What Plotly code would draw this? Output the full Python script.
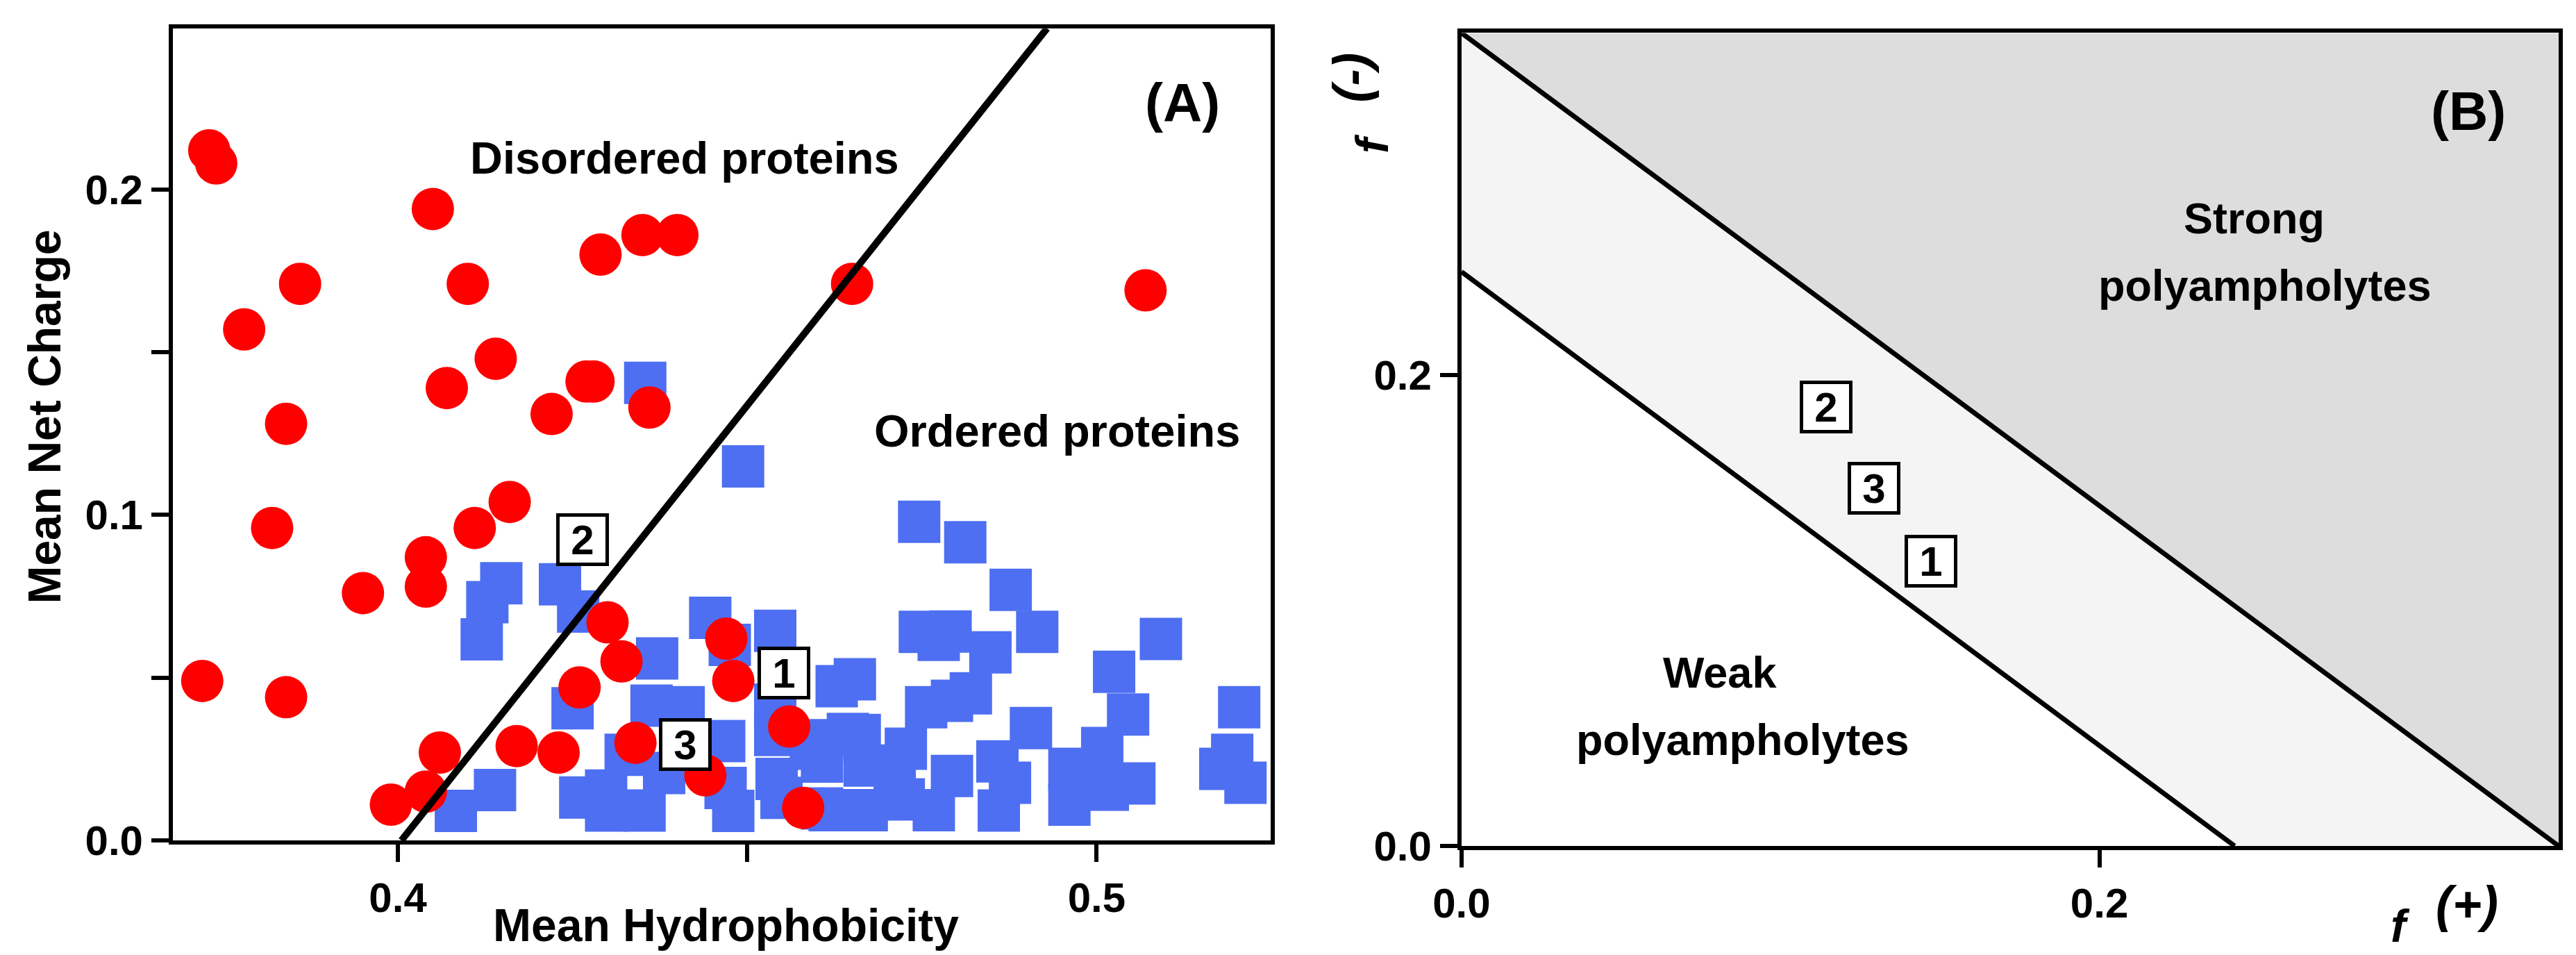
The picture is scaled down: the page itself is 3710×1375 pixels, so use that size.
import plotly.graph_objects as go

# ---- panel A: charge-hydropathy plot ----
# ordered proteins (blue squares)
ordered_h = [0.4354, 0.4494, 0.4746, 0.4812, 0.4877, 0.4915, 0.5092, 0.5025, 0.5204,
             0.4148, 0.4128, 0.4120, 0.4232, 0.4258, 0.4447, 0.4540, 0.4475, 0.4371,
             0.4250, 0.4363, 0.4409, 0.4467, 0.4540, 0.4540, 0.4326, 0.4139, 0.4083,
             0.4261, 0.4298, 0.4298, 0.4353, 0.4381, 0.4469, 0.4480, 0.4542, 0.4591,
             0.4628, 0.4654, 0.4747, 0.4774, 0.4791, 0.4848, 0.4820, 0.4793, 0.4756,
             0.4661, 0.4727, 0.4618, 0.4671, 0.4724, 0.4767, 0.4793, 0.4858, 0.4876,
             0.4860, 0.4906, 0.4961, 0.4961, 0.5008, 0.5016, 0.5045, 0.5054, 0.5177,
             0.5194, 0.5213, 0.4644, 0.4607, 0.4668, 0.4711, 0.4549, 0.4607, 0.4607]
ordered_r = [0.1406, 0.1149, 0.0979, 0.0916, 0.0770, 0.0641, 0.0619, 0.0518, 0.0409,
             0.0790, 0.0732, 0.0618, 0.0787, 0.0703, 0.0684, 0.0644, 0.0601, 0.0559,
             0.0406, 0.0414, 0.0409, 0.0305, 0.0324, 0.0417, 0.0263, 0.0155, 0.0091,
             0.0132, 0.0153, 0.0092, 0.0092, 0.0207, 0.0161, 0.0091, 0.0189, 0.0282,
             0.0474, 0.0495, 0.0641, 0.0616, 0.0642, 0.0578, 0.0452, 0.0429, 0.0409,
             0.0324, 0.0282, 0.0093, 0.0093, 0.0126, 0.0093, 0.0198, 0.0243, 0.0177,
             0.0092, 0.0345, 0.0220, 0.0110, 0.0284, 0.0156, 0.0387, 0.0175, 0.0220,
             0.0263, 0.0177, 0.0327, 0.0242, 0.0230, 0.0207, 0.0131, 0.0098, 0.0308]

# disordered proteins (red circles)
disordered_h = [0.373, 0.374, 0.405, 0.429, 0.435, 0.440, 0.465, 0.507, 0.386, 0.410,
                0.378, 0.414, 0.407, 0.427, 0.428, 0.422, 0.436, 0.384, 0.416, 0.411,
                0.382, 0.404, 0.404, 0.395, 0.430, 0.447, 0.432, 0.448, 0.426, 0.372,
                0.384, 0.456, 0.406, 0.417, 0.423, 0.434, 0.444, 0.404, 0.399, 0.458]
disordered_r = [0.212, 0.208, 0.194, 0.180, 0.186, 0.186, 0.171, 0.169, 0.171, 0.171,
                0.157, 0.148, 0.139, 0.141, 0.141, 0.131, 0.133, 0.128, 0.104, 0.096,
                0.096, 0.087, 0.078, 0.076, 0.067, 0.062, 0.055, 0.049, 0.047, 0.049,
                0.044, 0.035, 0.027, 0.029, 0.027, 0.030, 0.020, 0.015, 0.011, 0.010]

# order/disorder boundary
boundary_h = [0.4005, 0.4929]
boundary_r = [0.0, 0.2495]

# the three numbered proteins, shown in both panels
protein_labels = ["1", "2", "3"]
prot_h = [0.4552, 0.4264, 0.4411]
prot_r = [0.0515, 0.0924, 0.0295]
prot_fplus = [0.1473, 0.1144, 0.1293]
prot_fminus = [0.1209, 0.1865, 0.1520]

# ---- panel B: Das-Pappu diagram boundaries ----
strong_fplus = [0.0, 0.344]
strong_fminus = [0.3455, 0.0]
weak_fplus = [0.0, 0.2424]
weak_fminus = [0.244, 0.0]

FONT = "Liberation Sans"
bold = dict(family=FONT, color="black", weight="bold")

fig = go.Figure()

# panel B shaded regions (drawn first)
fig.add_trace(go.Scatter(
    x=[strong_fplus[0], strong_fplus[1], strong_fplus[1]],
    y=[strong_fminus[0], strong_fminus[0], strong_fminus[1]],
    fill="toself", fillcolor="#dddddd", mode="lines", line=dict(width=0),
    xaxis="x2", yaxis="y2", hoverinfo="skip"))
fig.add_trace(go.Scatter(
    x=[weak_fplus[0], strong_fplus[0], strong_fplus[1], weak_fplus[1]],
    y=[weak_fminus[0], strong_fminus[0], strong_fminus[1], weak_fminus[1]],
    fill="toself", fillcolor="#f4f4f4", mode="lines", line=dict(width=0),
    xaxis="x2", yaxis="y2", hoverinfo="skip"))
fig.add_trace(go.Scatter(x=strong_fplus, y=strong_fminus, mode="lines",
                         line=dict(color="black", width=7), xaxis="x2", yaxis="y2"))
fig.add_trace(go.Scatter(x=weak_fplus, y=weak_fminus, mode="lines",
                         line=dict(color="black", width=7), xaxis="x2", yaxis="y2"))

# panel A markers
fig.add_trace(go.Scatter(x=ordered_h, y=ordered_r, mode="markers",
                         marker=dict(symbol="square", size=61, color="#4e6ff2",
                                     line=dict(width=0)),
                         xaxis="x", yaxis="y"))
fig.add_trace(go.Scatter(x=disordered_h, y=disordered_r, mode="markers",
                         marker=dict(symbol="circle", size=61, color="#ff0000",
                                     line=dict(width=0)),
                         xaxis="x", yaxis="y"))
fig.add_trace(go.Scatter(x=boundary_h, y=boundary_r, mode="lines",
                         line=dict(color="black", width=10), xaxis="x", yaxis="y"))

ann = []
# numbered boxes
for lab, h, r, fp, fm in zip(protein_labels, prot_h, prot_r, prot_fplus, prot_fminus):
    for xr, yr, xv, yv in (("x", "y", h, r), ("x2", "y2", fp, fm)):
        ann.append(dict(x=xv, y=yv, xref=xr, yref=yr, text=lab,
                        font=dict(size=60, **bold), bgcolor="white",
                        bordercolor="black", borderwidth=5, borderpad=0,
                        width=66, height=66))

# region labels
ann += [
    dict(x=0.4410, y=0.2097, xref="x", yref="y", text="Disordered proteins",
         font=dict(size=65, **bold)),
    dict(x=0.4943, y=0.1257, xref="x", yref="y", text="Ordered proteins",
         font=dict(size=65, **bold)),
    dict(x=0.5123, y=0.2267, xref="x", yref="y", text="(A)",
         font=dict(size=78, **bold)),
    dict(x=0.3157, y=0.3122, xref="x2", yref="y2", text="(B)",
         font=dict(size=78, **bold)),
    dict(x=0.2486, y=0.2668, xref="x2", yref="y2", text="Strong",
         font=dict(size=63, **bold)),
    dict(x=0.2520, y=0.2383, xref="x2", yref="y2", text="polyampholytes",
         font=dict(size=63, **bold)),
    dict(x=0.0810, y=0.0738, xref="x2", yref="y2", text="Weak",
         font=dict(size=63, **bold)),
    dict(x=0.0881, y=0.0453, xref="x2", yref="y2", text="polyampholytes",
         font=dict(size=63, **bold)),
]

# axis titles
ann += [
    dict(x=0.2797, y=0.0371, xref="paper", yref="paper", text="Mean Hydrophobicity",
         font=dict(size=66, **bold)),
    dict(x=0.0150, y=0.5695, xref="paper", yref="paper", text="Mean Net Charge",
         textangle=-90, font=dict(size=66, **bold)),
    dict(x=0.9296, y=0.0364, xref="paper", yref="paper", text="<i>f</i>",
         font=dict(size=66, **bold)),
    dict(x=0.9555, y=0.0590, xref="paper", yref="paper", text="<i>(+)</i>",
         font=dict(size=72, **bold)),
    dict(x=0.5305, y=0.8553, xref="paper", yref="paper", text="<i>f</i>",
         textangle=-90, font=dict(size=66, **bold)),
    dict(x=0.5225, y=0.9250, xref="paper", yref="paper", text="<i>(-)</i>",
         textangle=-90, font=dict(size=72, **bold)),
]
for a in ann:
    a.update(showarrow=False, xanchor="center", yanchor="middle")

axis_common = dict(showline=True, linewidth=6, linecolor="black", mirror=True,
                   ticks="outside", ticklen=25, tickwidth=6, tickcolor="black",
                   showgrid=False, zeroline=False, automargin=False,
                   tickfont=dict(size=60, **bold))

fig.update_layout(
    width=3710, height=1375,
    margin=dict(l=0, r=0, t=0, b=0),
    paper_bgcolor="white", plot_bgcolor="white",
    showlegend=False,
    xaxis=dict(domain=[0.06496, 0.4911], range=[0.3678, 0.5249],
               tickvals=[0.4, 0.45, 0.5], ticktext=["0.4", "", "0.5"], **axis_common),
    yaxis=dict(domain=[0.1258, 0.9758], range=[0, 0.2494],
               tickvals=[0, 0.05, 0.1, 0.15, 0.2], ticktext=["0.0", "", "0.1", "", "0.2"],
               **axis_common),
    xaxis2=dict(domain=[0.5652, 0.9911], range=[0, 0.344], anchor="y2",
                tickvals=[0, 0.2], ticktext=["0.0", "0.2"], **axis_common),
    yaxis2=dict(domain=[0.12, 0.9713], range=[0, 0.3455], anchor="x2",
                tickvals=[0, 0.2], ticktext=["0.0", "0.2"], **axis_common),
    annotations=ann,
)

fig.write_html("out.html")
